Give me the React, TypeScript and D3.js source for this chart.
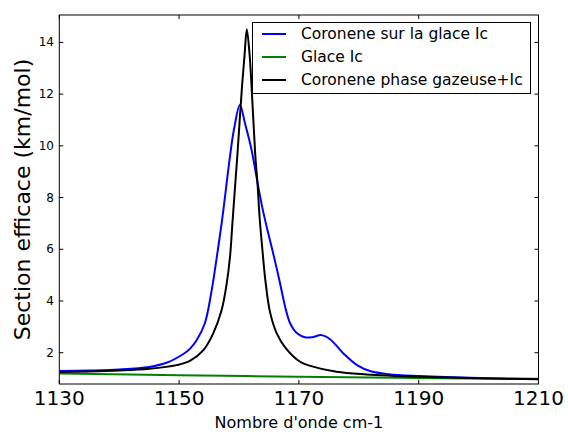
import React from "react";
import * as d3 from "d3";

const blueX = [1130, 1135, 1140, 1145, 1148, 1150.7, 1151.8, 1152.95, 1154.3, 1155.45, 1156.3, 1157.1, 1157.6, 1158.35, 1159.15, 1160.15, 1161.0, 1162.1, 1163.0, 1163.9, 1164.9, 1165.8, 1166.86, 1167.7, 1168.53, 1169.7, 1171.0, 1172.2, 1173.8, 1175.2, 1177.4, 1179.7, 1182, 1185, 1190, 1200, 1210];
const blueY = [1.29, 1.31, 1.35, 1.45, 1.62, 1.95, 2.15, 2.49, 3.14, 4.43, 5.71, 7.0, 7.91, 9.33, 10.62, 11.58, 10.87, 9.84, 8.7, 7.6, 6.6, 5.75, 4.68, 3.78, 3.14, 2.75, 2.6, 2.6, 2.68, 2.52, 1.98, 1.52, 1.28, 1.17, 1.1, 1.02, 0.98];

const blackX = [1130, 1135, 1140, 1145, 1149.6, 1151.8, 1154.05, 1155.7, 1157.1, 1157.95, 1158.5, 1158.9, 1159.3, 1159.75, 1160.5, 1160.95, 1161.3, 1161.75, 1162.1, 1162.7, 1163.1, 1163.45, 1163.9, 1164.4, 1165.2, 1166.3, 1167.8, 1170.2, 1171.9, 1176.3, 1181.3, 1190, 1200, 1210];
const blackY = [1.25, 1.27, 1.31, 1.38, 1.52, 1.68, 2.1, 2.75, 3.65, 4.68, 5.71, 7.0, 8.29, 9.71, 12.29, 13.58, 14.51, 13.58, 12.29, 9.71, 8.5, 7.2, 6.0, 4.8, 3.55, 2.75, 2.18, 1.65, 1.49, 1.26, 1.16, 1.07, 1.01, 0.97];

const greenX = [1130, 1150, 1170, 1190, 1210];
const greenY = [1.2, 1.13, 1.07, 1.02, 0.99];

const xTicks = [1130, 1150, 1170, 1190, 1210];
const yTicks = [2, 4, 6, 8, 10, 12, 14];

const seriesNames = ["Coronene sur la glace Ic", "Glace Ic", "Coronene phase gazeuse+Ic"];
const seriesColors = ["#0000ff", "#008000", "#000000"];

const W = 568, H = 432;
const L = 59.3, R = 538.5, T = 15, B = 384;

export default function App() {
  const x = d3.scaleLinear().domain([1130, 1210]).range([L, R]);
  const y = d3.scaleLinear().domain([0.79, 15.06]).range([B, T]);
  const line = d3.line<[number, number]>().x(d => x(d[0])).y(d => y(d[1])).curve(d3.curveCatmullRom.alpha(0.5));
  const series = [
    blueX.map((v, i) => [v, blueY[i]] as [number, number]),
    greenX.map((v, i) => [v, greenY[i]] as [number, number]),
    blackX.map((v, i) => [v, blackY[i]] as [number, number]),
  ];
  const font = "DejaVu Sans, sans-serif";
  return (
    <svg width={W} height={H} style={{ position: "absolute", left: 0, top: 0, background: "#fff" }} fontFamily={font}>
      <defs>
        <clipPath id="plot">
          <rect x={L} y={T} width={R - L} height={B - T} />
        </clipPath>
      </defs>
      <rect x={0} y={0} width={W} height={H} fill="#fff" />
      <g clipPath="url(#plot)">
        {series.map((s, i) => (
          <path key={i} d={line(s) || ""} fill="none" stroke={seriesColors[i]} strokeWidth={2} strokeLinejoin="round" />
        ))}
      </g>
      <rect x={L} y={T} width={R - L} height={B - T} fill="none" stroke="#000" strokeWidth={1} />
      {xTicks.map(t => (
        <g key={t}>
          <line x1={x(t)} x2={x(t)} y1={B} y2={B - 4} stroke="#000" />
          <line x1={x(t)} x2={x(t)} y1={T} y2={T + 4} stroke="#000" />
          <text x={x(t)} y={405} fontSize={20} textAnchor="middle">{t}</text>
        </g>
      ))}
      {yTicks.map(t => (
        <g key={t}>
          <line x1={L} x2={L + 4} y1={y(t)} y2={y(t)} stroke="#000" />
          <line x1={R} x2={R - 4} y1={y(t)} y2={y(t)} stroke="#000" />
          <text x={54} y={y(t)} fontSize={12} textAnchor="end" dominantBaseline="central">{t}</text>
        </g>
      ))}
      <text x={(L + R) / 2} y={428} fontSize={16} textAnchor="middle">Nombre d'onde cm-1</text>
      <text transform={`translate(30,${(T + B) / 2}) rotate(-90)`} fontSize={22} textAnchor="middle">Section efficace (km/mol)</text>
      <g>
        <rect x={252.5} y={22.5} width={278} height={71} fill="#fff" stroke="#000" strokeWidth={1} />
        {seriesNames.map((n, i) => (
          <g key={n}>
            <line x1={262} x2={286} y1={34 + i * 23} y2={34 + i * 23} stroke={seriesColors[i]} strokeWidth={2} />
            <text x={301} y={34 + i * 23} fontSize={15.5} dominantBaseline="central">{n}</text>
          </g>
        ))}
      </g>
    </svg>
  );
}
